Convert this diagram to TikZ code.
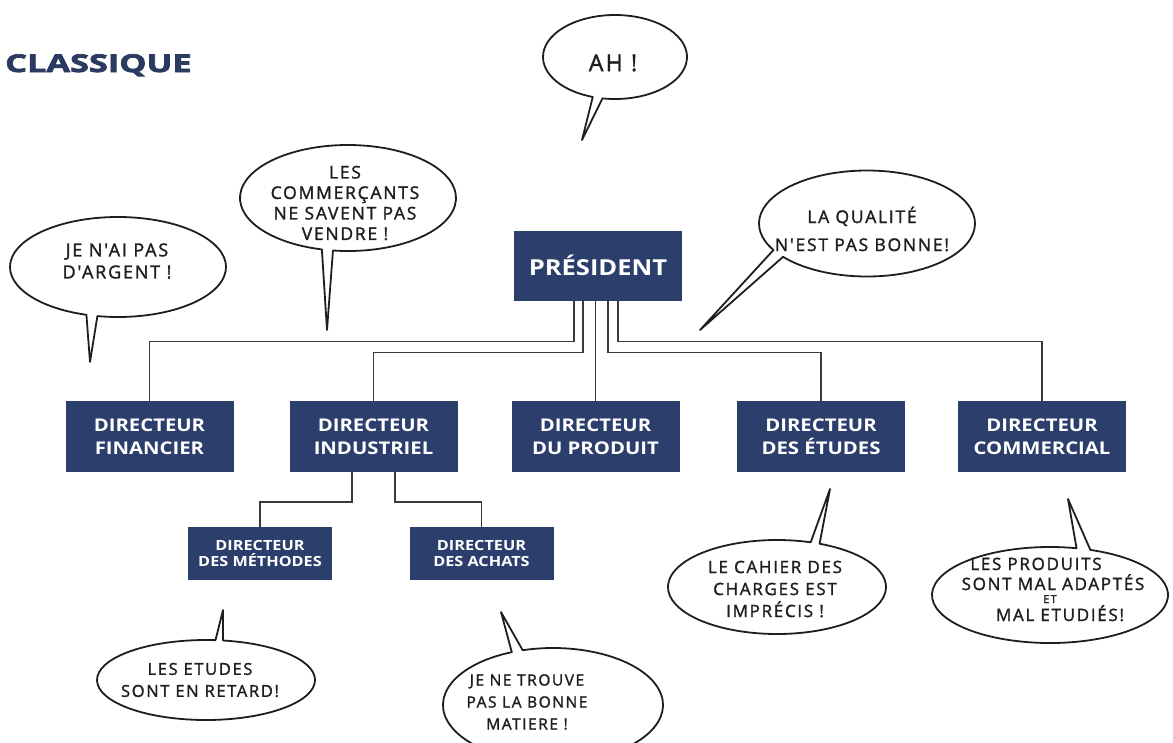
\documentclass[tikz,border=0pt]{standalone}
\usepackage{fontspec}
\usepackage{graphicx}
\newfontfamily\boxfont{Open Sans}[FakeStretch=1.16]
\newfontfamily\titlefont{Open Sans}[FakeStretch=1.40, FakeBold=3]
\newfontfamily\handfont{Open Sans}[LetterSpace=10, FakeBold=1.5]
\definecolor{boxblue}{HTML}{2C3E6B}
\definecolor{titleblue}{HTML}{2B3A60}
\definecolor{linkgray}{HTML}{3A3A3A}
\definecolor{handink}{HTML}{1E1E1E}
\begin{document}
\begin{tikzpicture}[x=1pt,y=1pt,
  orgbox/.style={fill=boxblue, text=white, align=center, inner sep=0pt,
    minimum width=168pt, minimum height=71pt,
    font=\boxfont\bfseries\fontsize{17.5}{23}\selectfont},
  subbox/.style={orgbox, minimum width=144pt, minimum height=53pt,
    font=\boxfont\bfseries\fontsize{14}{16}\selectfont},
  link/.style={draw=linkgray, line width=1.5pt},
  bubble/.style={draw=handink, line width=1.8pt, fill=white, line join=round},
  hand/.style={text=handink, align=center, inner sep=0pt},
  hsize/.style={font=\handfont\fontsize{#1}{22}\selectfont}
]
\useasboundingbox (0,0) rectangle (1173,-742);
\clip (0,0) rectangle (1173,-742);

% title
\node[anchor=base west, inner sep=0pt, text=titleblue,
  font=\titlefont\bfseries\fontsize{24.5}{24}\selectfont] (T) at (5,-72) {CLASSIQUE};

% boxes
\node[orgbox, minimum height=70pt, font=\boxfont\bfseries\fontsize{22}{24}\selectfont]
  (P) at (598,-265.5) {PRÉSIDENT};
\node[orgbox] (F) at (149.5,-436.5) {DIRECTEUR\\FINANCIER};
\node[orgbox] (I) at (373.5,-436.5) {DIRECTEUR\\INDUSTRIEL};
\node[orgbox] (D) at (595.5,-436.5) {DIRECTEUR\\DU PRODUIT};
\node[orgbox] (E) at (821,-436.5) {DIRECTEUR\\DES ÉTUDES};
\node[orgbox] (C) at (1042,-436.5) {DIRECTEUR\\COMMERCIAL};
\node[subbox] (M) at (260,-553.5) {DIRECTEUR\\DES MÉTHODES};
\node[subbox] (A) at (481.5,-553.5) {DIRECTEUR\\DES ACHATS};

% connectors
\draw[link] ([xshift=-24pt]P.south) -- ++(0,-41) -| (F.north);
\draw[link] ([xshift=-15pt]P.south) -- ++(0,-52) -| (I.north);
\draw[link] (P.south -| D.north) -- (D.north);
\draw[link] ([xshift=10pt]P.south) -- ++(0,-52) -| (E.north);
\draw[link] ([xshift=20pt]P.south) -- ++(0,-41) -| (C.north);
\draw[link] ([xshift=-21.5pt]I.south) -- ++(0,-30) -| (M.north);
\draw[link] ([xshift=21.5pt]I.south) -- ++(0,-30) -| (A.north);

% speech bubbles
\draw[bubble] (615,-57) ++(260:72 and 42)
  arc[start angle=260, end angle=612, x radius=72, y radius=42] -- (582,-140) -- cycle;
\draw[bubble] (118,-267) ++(259:108 and 50)
  arc[start angle=259, end angle=613, x radius=108, y radius=50] -- (90,-362) -- cycle;
\draw[bubble] (348,-198) ++(262:108 and 53)
  arc[start angle=262, end angle=616, x radius=108, y radius=53] -- (327,-330) -- cycle;
\draw[bubble] (867,-223.5) ++(219:108 and 53)
  arc[start angle=219, end angle=570, x radius=108, y radius=53] -- (700,-330) -- cycle;
\draw[bubble] (777,-587) ++(72:109 and 47)
  arc[start angle=72, end angle=427, x radius=109, y radius=47] -- (830,-489) -- cycle;
\draw[bubble] (1050,-595) ++(77:118 and 48)
  arc[start angle=77, end angle=430, x radius=118, y radius=48] -- (1068,-499) -- cycle;
\draw[bubble] (206,-680) ++(85:109 and 40)
  arc[start angle=85, end angle=441, x radius=109, y radius=40] -- (223,-610) -- cycle;
\draw[bubble] (553,-705) ++(112:110 and 57)
  arc[start angle=112, end angle=466, x radius=110, y radius=57] -- (501,-612) -- cycle;

% bubble texts
\node[hand, hsize=23] (b1) at (613,-63) {AH !};
\node[hand, hsize=18] (b2) at (117,-261) {JE N'AI PAS\\D'ARGENT !};
\node[hand, font=\handfont\fontsize{17.5}{20.5}\selectfont] (b3) at (345,-203)
  {LES\\COMMERÇANTS\\NE SAVENT PAS\\VENDRE !};
\node[hand, font=\handfont\fontsize{17.5}{28}\selectfont] (b4) at (862,-229)
  {LA QUALITÉ\\N'EST PAS BONNE!};
\node[hand, hsize=17] (b5) at (775,-589) {LE CAHIER DES\\CHARGES EST\\IMPRÉCIS !};
\node[hand, hsize=17, anchor=base] (b6) at (1036,-570) {LES PRODUITS};
\node[hand, hsize=17, anchor=base] (b7) at (1053,-590) {SONT MAL ADAPTÉS};
\node[hand, hsize=11, anchor=base] (b8) at (1050,-603) {ET};
\node[hand, hsize=17, anchor=base] (b9) at (1060,-621) {MAL ETUDIÉS!};
\node[hand, hsize=16.5] (b10) at (200,-680) {LES ETUDES\\SONT EN RETARD!};
\node[hand, hsize=15.5] (b11) at (527,-702) {JE NE TROUVE\\PAS LA BONNE\\MATIERE !};
\end{tikzpicture}
\end{document}
